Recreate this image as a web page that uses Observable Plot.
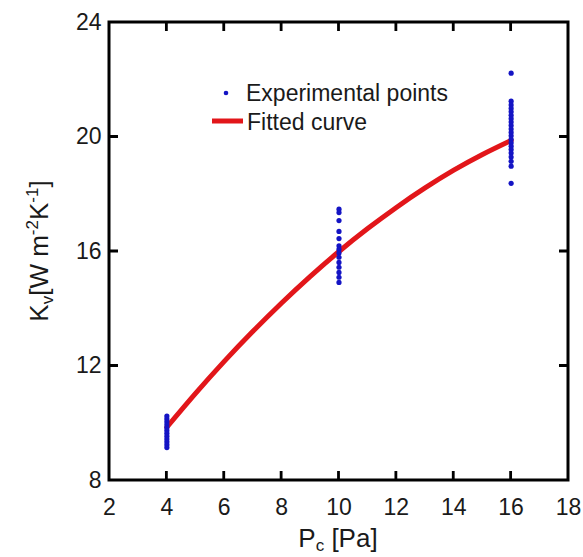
<!DOCTYPE html>
<html><head><meta charset="utf-8">
<script src="https://cdn.jsdelivr.net/npm/d3@7"></script>
<script src="https://cdn.jsdelivr.net/npm/@observablehq/plot@0.6"></script>
<style>body{margin:0;background:#fff}</style>
</head><body><div id="chart"></div>
<script>
// Experimental points (Pc [Pa] -> Kv)
const kvAt4 = [10.25, 10.15, 10.05, 9.95, 9.85, 9.75, 9.65, 9.55, 9.45, 9.35, 9.25, 9.15];
const kvAt10 = [17.48, 17.36, 17.08, 16.7, 16.45, 16.2, 16.08, 15.95, 15.8, 15.62, 15.45, 15.27, 15.1, 14.92];
const kvAt16 = [22.23, 21.25, 21.12, 21.0, 20.88, 20.76, 20.64, 20.52, 20.4, 20.28, 20.16, 20.04, 19.92, 19.8, 19.68, 19.56, 19.44, 19.3, 19.15, 18.98, 18.38];
// Fitted curve
const curveP = [4, 5, 6, 7, 8, 9, 10, 11, 12, 13, 14, 15, 16];
const curveK = [9.86, 11.04, 12.16, 13.21, 14.2, 15.13, 16.0, 16.8, 17.54, 18.22, 18.84, 19.39, 19.88];
// Tick labels
const xTicks = [2, 4, 6, 8, 10, 12, 14, 16, 18];
const yTicks = [8, 12, 16, 20, 24];

const points = [
  ...kvAt4.map(k => ({p: 4, k})),
  ...kvAt10.map(k => ({p: 10, k})),
  ...kvAt16.map(k => ({p: 16, k}))
];
const curve = curveP.map((p, i) => ({p, k: curveK[i]}));

const blue = "#1414c4", red = "#e2161a", font = "'Liberation Sans', Arial, sans-serif";

const chart = Plot.plot({
  width: 583, height: 557,
  marginLeft: 109, marginRight: 15, marginTop: 22, marginBottom: 77,
  style: {fontFamily: font, fontSize: "23px", color: "#1a1a1a", background: "#fff"},
  x: {domain: [2, 18]},
  y: {domain: [8, 24]},
  marks: [
    Plot.axisX(xTicks, {anchor: "bottom", tickSize: 0, tickPadding: 18, label: null}),
    Plot.axisY(yTicks, {anchor: "left", tickSize: 0, tickPadding: 8, label: null}),
    Plot.line(curve, {x: "p", y: "k", stroke: red, strokeWidth: 5, curve: "natural"}),
    Plot.dot(points, {x: "p", y: "k", r: 2.6, fill: blue, stroke: "none"})
  ]
});
document.getElementById("chart").appendChild(chart);

const svg = d3.select(chart);
const sx = chart.scale("x"), sy = chart.scale("y");
const pxL = sx.apply(2), pxR = sx.apply(18), pyB = sy.apply(8), pyT = sy.apply(24);
const T = 9;
let tickPath = "";
for (const v of xTicks.slice(1, -1)) {
  const px = sx.apply(v);
  tickPath += `M${px},${pyB}V${pyB - T}M${px},${pyT}V${pyT + T}`;
}
for (const v of yTicks.slice(1, -1)) {
  const py = sy.apply(v);
  tickPath += `M${pxL},${py}H${pxL + T}M${pxR},${py}H${pxR - T}`;
}
svg.append("path").attr("d", tickPath).attr("fill", "none").attr("stroke", "#000").attr("stroke-width", 2.8);
svg.append("path")
  .attr("d", `M${pxL},${pyT}H${pxR}V${pyB}H${pxL}Z`)
  .attr("fill", "none").attr("stroke", "#000").attr("stroke-width", 3);

// X axis title
const xt = svg.append("text").attr("x", 338).attr("y", 547).attr("text-anchor", "middle")
  .attr("font-family", font).attr("font-size", 26).attr("fill", "#1a1a1a");
xt.append("tspan").text("P");
xt.append("tspan").attr("font-size", 17).attr("dy", 4).text("c");
xt.append("tspan").attr("dy", -4).text(" [Pa]");
// Y axis title
const yt = svg.append("text").attr("transform", "translate(48,251) rotate(-90)").attr("text-anchor", "middle")
  .attr("font-family", font).attr("font-size", 26).attr("fill", "#1a1a1a");
yt.append("tspan").text("K");
yt.append("tspan").attr("font-size", 17).attr("dy", 5).text("v");
yt.append("tspan").attr("dy", -5).text("[W m");
yt.append("tspan").attr("font-size", 17).attr("dy", -10).text("-2");
yt.append("tspan").attr("dy", 10).text("K");
yt.append("tspan").attr("font-size", 17).attr("dy", -10).text("-1");
yt.append("tspan").attr("dy", 10).text("]");
// Legend
const lg = svg.append("g").attr("font-family", font).attr("font-size", 23).attr("fill", "#1a1a1a").attr("text-anchor", "start");
lg.append("circle").attr("cx", 226).attr("cy", 93).attr("r", 2.3).attr("fill", blue);
lg.append("text").attr("x", 246).attr("y", 101).text("Experimental points");
lg.append("line").attr("x1", 212).attr("x2", 243).attr("y1", 121).attr("y2", 121).attr("stroke", red).attr("stroke-width", 5);
lg.append("text").attr("x", 247).attr("y", 130).text("Fitted curve");
</script>
</body></html>
